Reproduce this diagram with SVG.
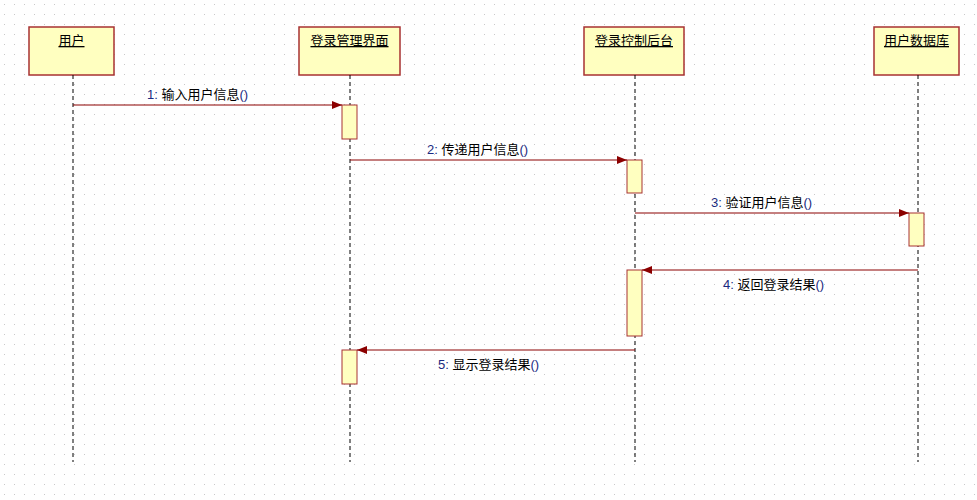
<svg xmlns="http://www.w3.org/2000/svg" width="977" height="500" viewBox="0 0 977 500">
<defs>
<pattern id="g" width="10" height="10" patternUnits="userSpaceOnUse"><rect x="4" y="4" width="1" height="1" fill="#c8c8c8"/></pattern>
<marker id="a" markerWidth="10" markerHeight="8" refX="10" refY="4" orient="auto" markerUnits="userSpaceOnUse"><path d="M0,0 L10,4 L0,8 Z" fill="#8b0000"/></marker>
<style>
.box{fill:#ffffc0;stroke:#a83232;stroke-width:1.5}
.act{fill:#ffffc0;stroke:#a83232;stroke-width:1}
.life{stroke:#000;stroke-dasharray:4,3;stroke-width:1}
.msg{stroke:#8b0000;stroke-width:1;marker-end:url(#a)}
.t{font-family:"Liberation Sans","Noto Sans CJK SC",sans-serif;font-size:13px;fill:#000}
.n{fill:#1a2a80}
</style>
</defs>
<rect width="977" height="500" fill="#fff"/>
<rect width="977" height="500" fill="url(#g)"/>
<g id="n1"><rect class="box" x="29" y="27" width="85" height="48"/><text class="t" x="71.5" y="45" text-anchor="middle" text-decoration="underline">用户</text><line class="life" x1="73" y1="75" x2="73" y2="462"/></g>
<g id="n2"><rect class="box" x="299" y="27" width="101" height="48"/><text class="t" x="349.5" y="45" text-anchor="middle" text-decoration="underline">登录管理界面</text><line class="life" x1="350" y1="75" x2="350" y2="462"/></g>
<g id="n3"><rect class="box" x="584" y="27" width="100" height="48"/><text class="t" x="634" y="45" text-anchor="middle" text-decoration="underline">登录控制后台</text><line class="life" x1="635" y1="75" x2="635" y2="462"/></g>
<g id="n4"><rect class="box" x="874" y="27" width="85" height="48"/><text class="t" x="916.5" y="45" text-anchor="middle" text-decoration="underline">用户数据库</text><line class="life" x1="918" y1="75" x2="918" y2="462"/></g>
<g id="acts">
<rect class="act" x="342" y="105" width="15" height="34"/>
<rect class="act" x="627" y="160" width="15" height="33"/>
<rect class="act" x="909" y="213" width="15" height="33"/>
<rect class="act" x="627" y="270" width="15" height="66"/>
<rect class="act" x="342" y="350" width="15" height="34"/>
</g>
<g id="connectors">
<line class="msg" x1="73" y1="105" x2="342" y2="105"/>
<line class="msg" x1="350" y1="160" x2="627" y2="160"/>
<line class="msg" x1="635" y1="213" x2="909" y2="213"/>
<line class="msg" x1="918" y1="270" x2="642" y2="270"/>
<line class="msg" x1="635" y1="350" x2="357" y2="350"/>
<text class="t" x="147" y="99"><tspan class="n">1:</tspan> 输入用户信息<tspan class="n">()</tspan></text>
<text class="t" x="427" y="154"><tspan class="n">2:</tspan> 传递用户信息<tspan class="n">()</tspan></text>
<text class="t" x="711" y="207"><tspan class="n">3:</tspan> 验证用户信息<tspan class="n">()</tspan></text>
<text class="t" x="723" y="289"><tspan class="n">4:</tspan> 返回登录结果<tspan class="n">()</tspan></text>
<text class="t" x="438" y="369"><tspan class="n">5:</tspan> 显示登录结果<tspan class="n">()</tspan></text>
</g>
</svg>
